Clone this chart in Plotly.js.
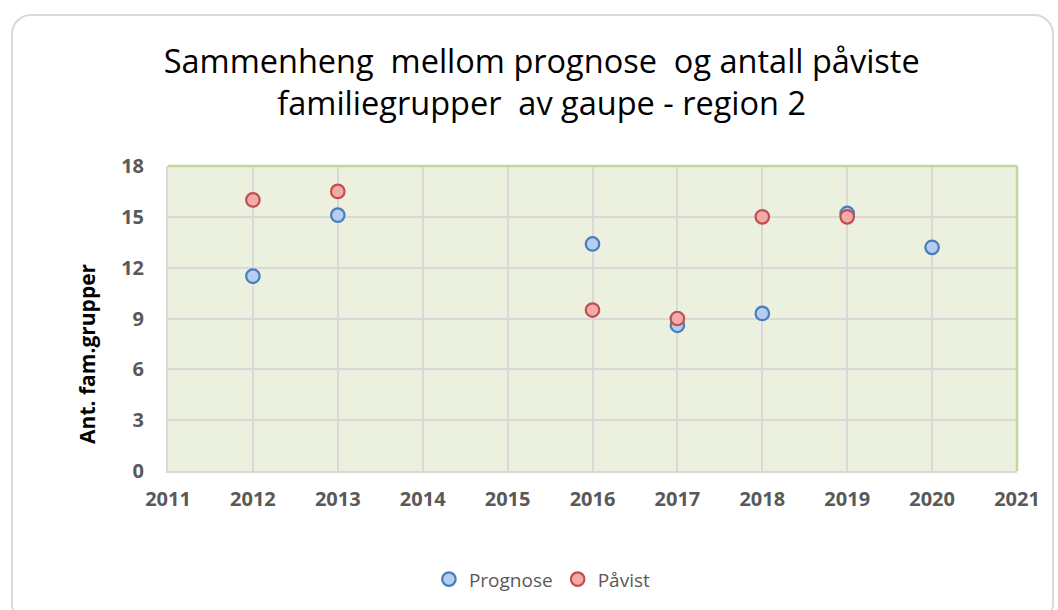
<!DOCTYPE html>
<html>
<head>
<meta charset="utf-8">
<script src="https://cdn.plot.ly/plotly-3.0.1.min.js"></script>
<style>
  html, body { margin: 0; padding: 0; background: #ffffff; }
  #frame { position: absolute; left: 11px; top: 14px; width: 1043px; height: 610px;
           border: 2px solid #d9d9d9; border-radius: 20px; box-sizing: border-box; }
  #chart { position: absolute; left: 0; top: 0; width: 1058px; height: 610px; }
</style>
</head>
<body>
<div id="frame"></div>
<div id="chart"></div>
<script>
const years = [2012, 2013, 2016, 2017, 2018, 2019, 2020];
const prognose = [11.5, 15.1, 13.4, 8.6, 9.3, 15.2, 13.2];
const pavistYears = [2012, 2013, 2016, 2017, 2018, 2019];
const pavist = [16.0, 16.5, 9.5, 9.0, 15.0, 15.0];
const xTicks = [2011, 2012, 2013, 2014, 2015, 2016, 2017, 2018, 2019, 2020, 2021];
const yTicks = [0, 3, 6, 9, 12, 15, 18];
const yTitle = 'Ant. fam.grupper';

const traces = [
  { type: 'scatter', mode: 'markers', name: 'Prognose', x: years, y: prognose,
    marker: { size: 13.5, color: '#b4cdf0', line: { color: '#4a7ebb', width: 2.2 } } },
  { type: 'scatter', mode: 'markers', name: 'Påvist', x: pavistYears, y: pavist,
    marker: { size: 13.5, color: '#f5aaaa', line: { color: '#c0504d', width: 2.2 } } }
];

const layout = {
  width: 1058, height: 610,
  paper_bgcolor: 'rgba(0,0,0,0)',
  plot_bgcolor: '#ebf1de',
  margin: { l: 168, r: 41, t: 166, b: 139 },
  title: {
    text: 'Sammenheng  mellom prognose  og antall påviste<br>familiegrupper  av gaupe - region 2',
    font: { family: 'Open Sans, sans-serif', size: 32.5, color: '#000000' },
    xref: 'container', yref: 'container',
    x: 0.512, xanchor: 'center', y: 0.881, yanchor: 'middle'
  },
  xaxis: {
    range: [2011, 2021], tickvals: xTicks, ticktext: xTicks.map(String),
    showgrid: true, gridcolor: '#d9d9d9', gridwidth: 2,
    showline: true, linecolor: '#d9d9d9', linewidth: 2,
    zeroline: false, ticks: '',
    tickfont: { family: 'Open Sans, sans-serif', size: 20, color: '#595959', weight: 'bold' },
    ticklabelstandoff: 9
  },
  yaxis: {
    range: [0, 18], tickvals: yTicks, ticktext: yTicks.map(String),
    showgrid: true, gridcolor: '#d9d9d9', gridwidth: 2,
    showline: true, linecolor: '#d9d9d9', linewidth: 2,
    zeroline: false, ticks: '',
    tickfont: { family: 'Open Sans, sans-serif', size: 20, color: '#595959', weight: 'bold' },
    ticklabelstandoff: 18
  },
  annotations: [
    { text: yTitle, textangle: -90, showarrow: false,
      xref: 'paper', yref: 'paper', x: -0.0954, y: 0.384, xanchor: 'center', yanchor: 'middle',
      font: { family: 'Open Sans, sans-serif', size: 21, color: '#000000', weight: 'bold' } }
  ],
  shapes: [
    { type: 'line', xref: 'paper', yref: 'paper', x0: 0, x1: 1, y0: 1, y1: 1,
      line: { color: '#c3d69b', width: 2.5 } },
    { type: 'line', xref: 'paper', yref: 'paper', x0: 1, x1: 1, y0: 0, y1: 1,
      line: { color: '#c3d69b', width: 2.5 } }
  ],
  showlegend: true,
  legend: {
    orientation: 'h', x: 0.441, xanchor: 'center', y: -0.355, yanchor: 'middle',
    font: { family: 'Open Sans, sans-serif', size: 19, color: '#595959' },
    itemwidth: 30, traceorder: 'normal', bgcolor: 'rgba(0,0,0,0)'
  }
};

Plotly.newPlot('chart', traces, layout, { displayModeBar: false, staticPlot: true });
</script>
</body>
</html>
